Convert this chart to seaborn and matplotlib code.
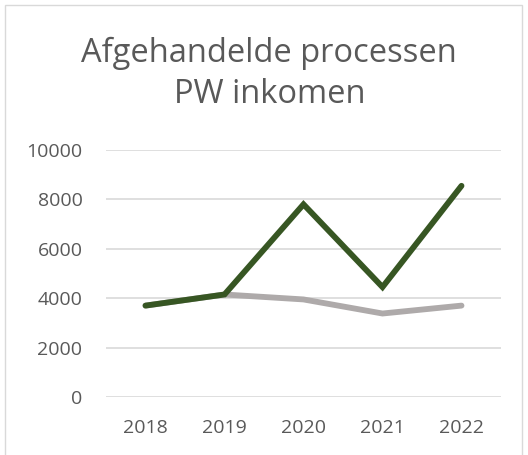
import matplotlib
matplotlib.use("Agg")
import matplotlib.pyplot as plt
import seaborn as sns
import pandas as pd
from matplotlib.patches import Rectangle

years = ["2018", "2019", "2020", "2021", "2022"]
green_series = [3700, 4150, 7800, 4450, 8550]
gray_series = [3700, 4150, 3950, 3380, 3700]
yticks = [0, 2000, 4000, 6000, 8000, 10000]
title = "Afgehandelde processen\nPW inkomen"

df = pd.DataFrame({
    "year": years * 2,
    "value": gray_series + green_series,
    "series": ["gray"] * len(years) + ["green"] * len(years),
})

sns.set_theme(style="white")
plt.rcParams["font.family"] = ["Open Sans", "DejaVu Sans"]

fig = plt.figure(figsize=(5.28, 4.55), dpi=100)
ax = fig.add_axes([106 / 528, 1 - 397 / 455, (501 - 106) / 528, (397 - 150) / 455])

sns.lineplot(data=df, x="year", y="value", hue="series",
             palette={"gray": "#AEAAAA", "green": "#375623"},
             hue_order=["gray", "green"], linewidth=4.2, legend=False,
             ax=ax, sort=False)
for ln in ax.lines:
    ln.set_solid_capstyle("round")
    ln.set_solid_joinstyle("miter")

ax.set_xlim(-0.5, len(years) - 0.5)
ax.set_ylim(0, 10000)
ax.set_yticks(yticks)
ax.set_yticklabels([str(v) for v in yticks])
ax.grid(axis="y", color="#D9D9D9", linewidth=1.2)
ax.set_axisbelow(True)
for s in ax.spines.values():
    s.set_visible(False)
ax.tick_params(axis="both", length=0, labelsize=14, colors="#595959")
ax.tick_params(axis="y", pad=17)
ax.tick_params(axis="x", pad=16)
ax.set_xlabel("")
ax.set_ylabel("")

fig.text(0.51, 1 - 74 / 455, title, ha="center", va="center", fontsize=23.5,
         color="#595959", linespacing=1.35)

fig.patches.append(Rectangle((5 / 528, -0.01), 517 / 528, 1 - 5 / 455 + 0.01,
                             transform=fig.transFigure, fill=False,
                             edgecolor="#D9D9D9", linewidth=1))

fig.savefig("out.png", dpi=100)
